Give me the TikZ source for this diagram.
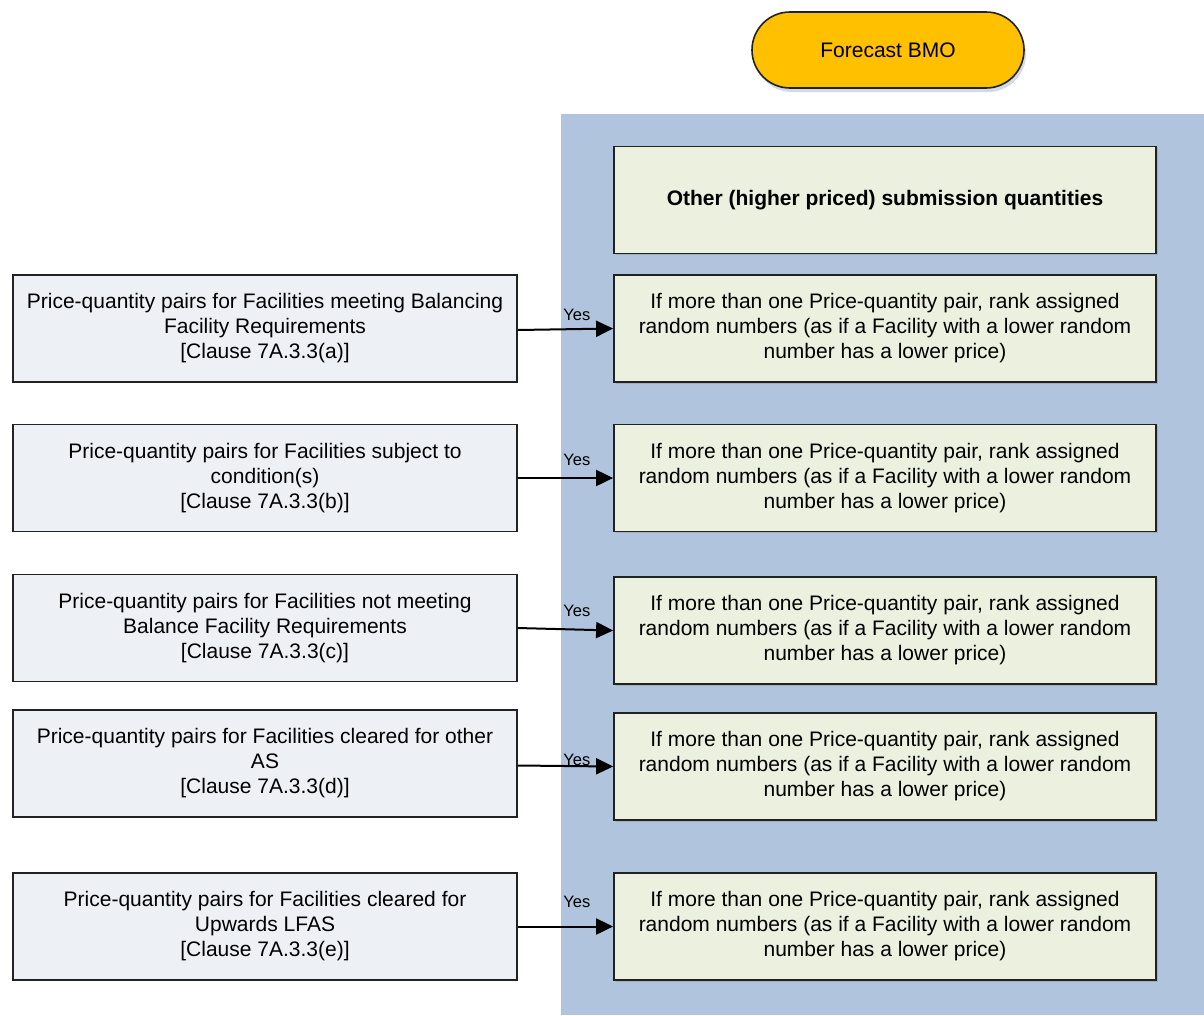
\documentclass[tikz,border=0pt]{standalone}
\usepackage{fontspec}
\setmainfont{Liberation Sans}
\usetikzlibrary{arrows.meta,shadows}
\definecolor{lanebg}{HTML}{B0C4DE}
\definecolor{leftfill}{HTML}{EDF0F5}
\definecolor{rightfill}{HTML}{EBF0DF}
\definecolor{termfill}{HTML}{FFC000}
\definecolor{edgecol}{HTML}{222222}
\begin{document}
\begin{tikzpicture}[x=1pt,y=-1pt,
  txt/.style={font=\fontsize{21}{25}\selectfont, align=center, text=black},
  leftbox/.style={txt, draw=edgecol, line width=1.6pt, fill=leftfill, minimum width=504pt, minimum height=107pt, inner sep=0pt},
  rightbox/.style={txt, draw=edgecol, line width=1.8pt, fill=rightfill, minimum width=542pt, minimum height=107pt, inner sep=0pt,
     drop shadow={shadow xshift=1.5pt, shadow yshift=-1.5pt, fill=black!40, opacity=0.5}},
  term/.style={txt, draw=edgecol, line width=1.6pt, fill=termfill, minimum width=272pt, minimum height=76pt, rounded corners=38pt,
     drop shadow={shadow xshift=2pt, shadow yshift=-4pt, fill=lanebg, opacity=0.6}},
  flow/.style={line width=2pt, -{Triangle[length=17pt,width=16pt]}},
  yes/.style={font=\fontsize{16.5}{18}\selectfont, text=black, inner sep=0pt, pos=0.62}
]
\useasboundingbox (0,0) rectangle (1204,1015);
\fill[white] (0,0) rectangle (1204,1015);
\fill[lanebg] (561,114) rectangle (1204,1015);

\node[term] (bmo) at (888,50) {Forecast BMO};

\node[rightbox, font=\bfseries\fontsize{21}{25}\selectfont] (top) at (885,200) {Other (higher priced) submission quantities};

\newcommand{\ranktext}{If more than one Price-quantity pair, rank assigned\\random numbers (as if a Facility with a lower random\\number has a lower price)}

\node[leftbox] (l1) at (265,328.5) {Price-quantity pairs for Facilities meeting Balancing\\Facility Requirements\\{[}Clause 7A.3.3(a)]};
\node[leftbox] (l2) at (265,478) {Price-quantity pairs for Facilities subject to\\condition(s)\\{[}Clause 7A.3.3(b)]};
\node[leftbox] (l3) at (265,628) {Price-quantity pairs for Facilities not meeting\\Balance Facility Requirements\\{[}Clause 7A.3.3(c)]};
\node[leftbox] (l4) at (265,763.5) {Price-quantity pairs for Facilities cleared for other\\AS\\{[}Clause 7A.3.3(d)]};
\node[leftbox] (l5) at (265,926.5) {Price-quantity pairs for Facilities cleared for\\Upwards LFAS\\{[}Clause 7A.3.3(e)]};

\node[rightbox] (r1) at (885,328.5) {\ranktext};
\node[rightbox] (r2) at (885,478) {\ranktext};
\node[rightbox] (r3) at (885,630.5) {\ranktext};
\node[rightbox] (r4) at (885,766.5) {\ranktext};
\node[rightbox] (r5) at (885,926.5) {\ranktext};

\draw[flow] ([yshift=-1.5pt]l1.east) -- (r1.west) node[yes, yshift=14pt] {Yes};
\draw[flow] (l2.east) -- (r2.west) node[yes, yshift=18pt] {Yes};
\draw[flow] (l3.east) -- (r3.west) node[yes, yshift=18.5pt] {Yes};
\draw[flow] ([yshift=-2pt]l4.east) -- (r4.west) node[yes, yshift=6pt] {Yes};
\draw[flow] (l5.east) -- (r5.west) node[yes, yshift=25pt] {Yes};
\end{tikzpicture}
\end{document}
